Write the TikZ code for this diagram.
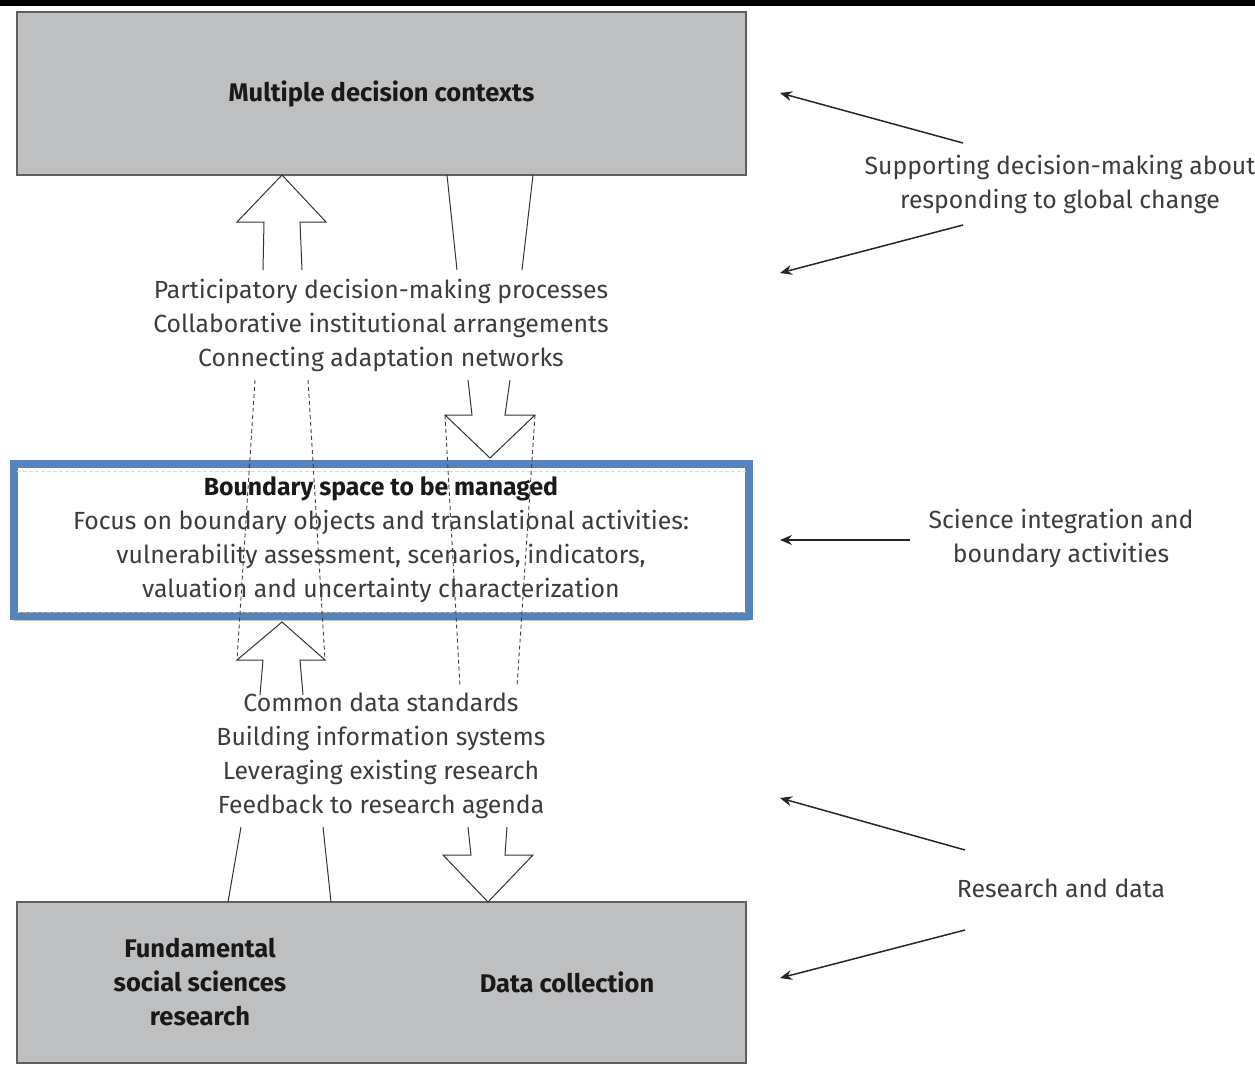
\documentclass[tikz,border=0pt]{standalone}
\usepackage{fontspec}
\setmainfont{Fira Sans}
\usetikzlibrary{arrows.meta}
\usetikzlibrary{shadows}

\definecolor{boxgray}{RGB}{190,191,193}
\definecolor{framegray}{RGB}{95,95,95}
\definecolor{textgray}{RGB}{60,60,60}
\definecolor{bndblue}{RGB}{84,131,189}

\begin{document}
\begin{tikzpicture}[x=1pt,y=-1pt]
	\tikzstyle{GrayBox}   = [draw=framegray, line width=1.2pt, fill=boxgray, inner sep=0pt]
	\tikzstyle{Label}     = [text=textgray, align=center, font=\fontsize{24.8}{34}\selectfont]
	\tikzstyle{BoldLabel} = [Label, text=black!90, font=\fontsize{25.5}{34}\selectfont\bfseries]
	\tikzstyle{Hollow}    = [draw=black!80, line width=1pt]
	\tikzstyle{Guide}     = [draw=black!75, line width=0.9pt, dash pattern=on 4pt off 3pt]
	\tikzstyle{Pointer}   = [-{Stealth[length=12pt,width=10pt,inset=4pt]}, line width=1.5pt, black!85]

	\useasboundingbox (0,0) rectangle (1255,1066);
	\fill[black] (0,0) rectangle (1255,6);

	\node[GrayBox, minimum width=729pt, minimum height=163pt] (decision) at (381.5,93.5) {};
	\node[BoldLabel] (decisiontxt) at (decision) {Multiple decision contexts};

	\node[GrayBox, minimum width=729pt, minimum height=161pt] (research) at (381.5,982.5) {};
	\node[BoldLabel] (fundamental) at (200,982) {Fundamental\\social sciences\\research};
	\node[BoldLabel] (datacoll) at (567,982) {Data collection};

	\node[draw=bndblue, line width=7.5pt, fill=white, minimum width=735pt, minimum height=152pt,
		drop shadow={opacity=0.45, shadow xshift=0pt, shadow yshift=-5pt}] (boundary) at (381.5,540) {};
	\draw[gray!60, line width=0.8pt, dash pattern=on 4pt off 2pt] (17,612) -- (746,612);
	\draw[gray!30, line width=0.8pt, dash pattern=on 4pt off 2pt] (17,471) -- (746,471);

	\node[Label] (participation) at (381,325) {Participatory decision-making processes\\Collaborative institutional arrangements\\Connecting adaptation networks};
	\node[Label] (standards) at (381,756) {Common data standards\\Building information systems\\Leveraging existing research\\Feedback to research agenda};

	\draw[Guide] (255,380) -- (237,660);
	\draw[Guide] (308,380) -- (325,660);
	\draw[Guide] (445,415) -- (460,687);
	\draw[Guide] (535,415) -- (517,687);

	\node[Label] (boundarytxt) at (381,540) {{\bfseries\color{black!90}Boundary space to be managed}\\Focus on boundary objects and translational activities:\\vulnerability assessment, scenarios, indicators,\\valuation and uncertainty characterization};

	\draw[Hollow] (263,270) -- (264,222) -- (237,222) -- (282,175) -- (326,222) -- (300,222) -- (302,270);
	\draw[Hollow] (447,175) -- (457,270);
	\draw[Hollow] (533,175) -- (522,270);
	\draw[Hollow] (468,380) -- (472,415) -- (445,415) -- (490,458) -- (535,415) -- (505,415) -- (510,380);
	\draw[Hollow] (260,695) -- (263,660) -- (237,660) -- (282,622) -- (325,660) -- (300,660) -- (303,695);
	\draw[Hollow] (241,827) -- (228,902);
	\draw[Hollow] (323,827) -- (331,902);
	\draw[Hollow] (468,827) -- (471,855) -- (443,855) -- (488,902) -- (533,855) -- (505,855) -- (507,827);

	\node[Label] (support) at (1060,184) {Supporting decision-making about\\responding to global change};
	\node[Label] (integration) at (1061,538) {Science integration and\\boundary activities};
	\node[Label] (resdata) at (1061,888) {Research and data};

	\coordinate (s1) at (963,143);
	\coordinate (s2) at (963,225);
	\coordinate (i1) at (910,540);
	\coordinate (r1) at (965,850);
	\coordinate (r2) at (965,930);
	\draw[Pointer] (s1) -- (780,93);
	\draw[Pointer] (s2) -- (780,273);
	\draw[Pointer] (i1) -- (780,540);
	\draw[Pointer] (r1) -- (780,798);
	\draw[Pointer] (r2) -- (780,978);
\end{tikzpicture}
\end{document}
